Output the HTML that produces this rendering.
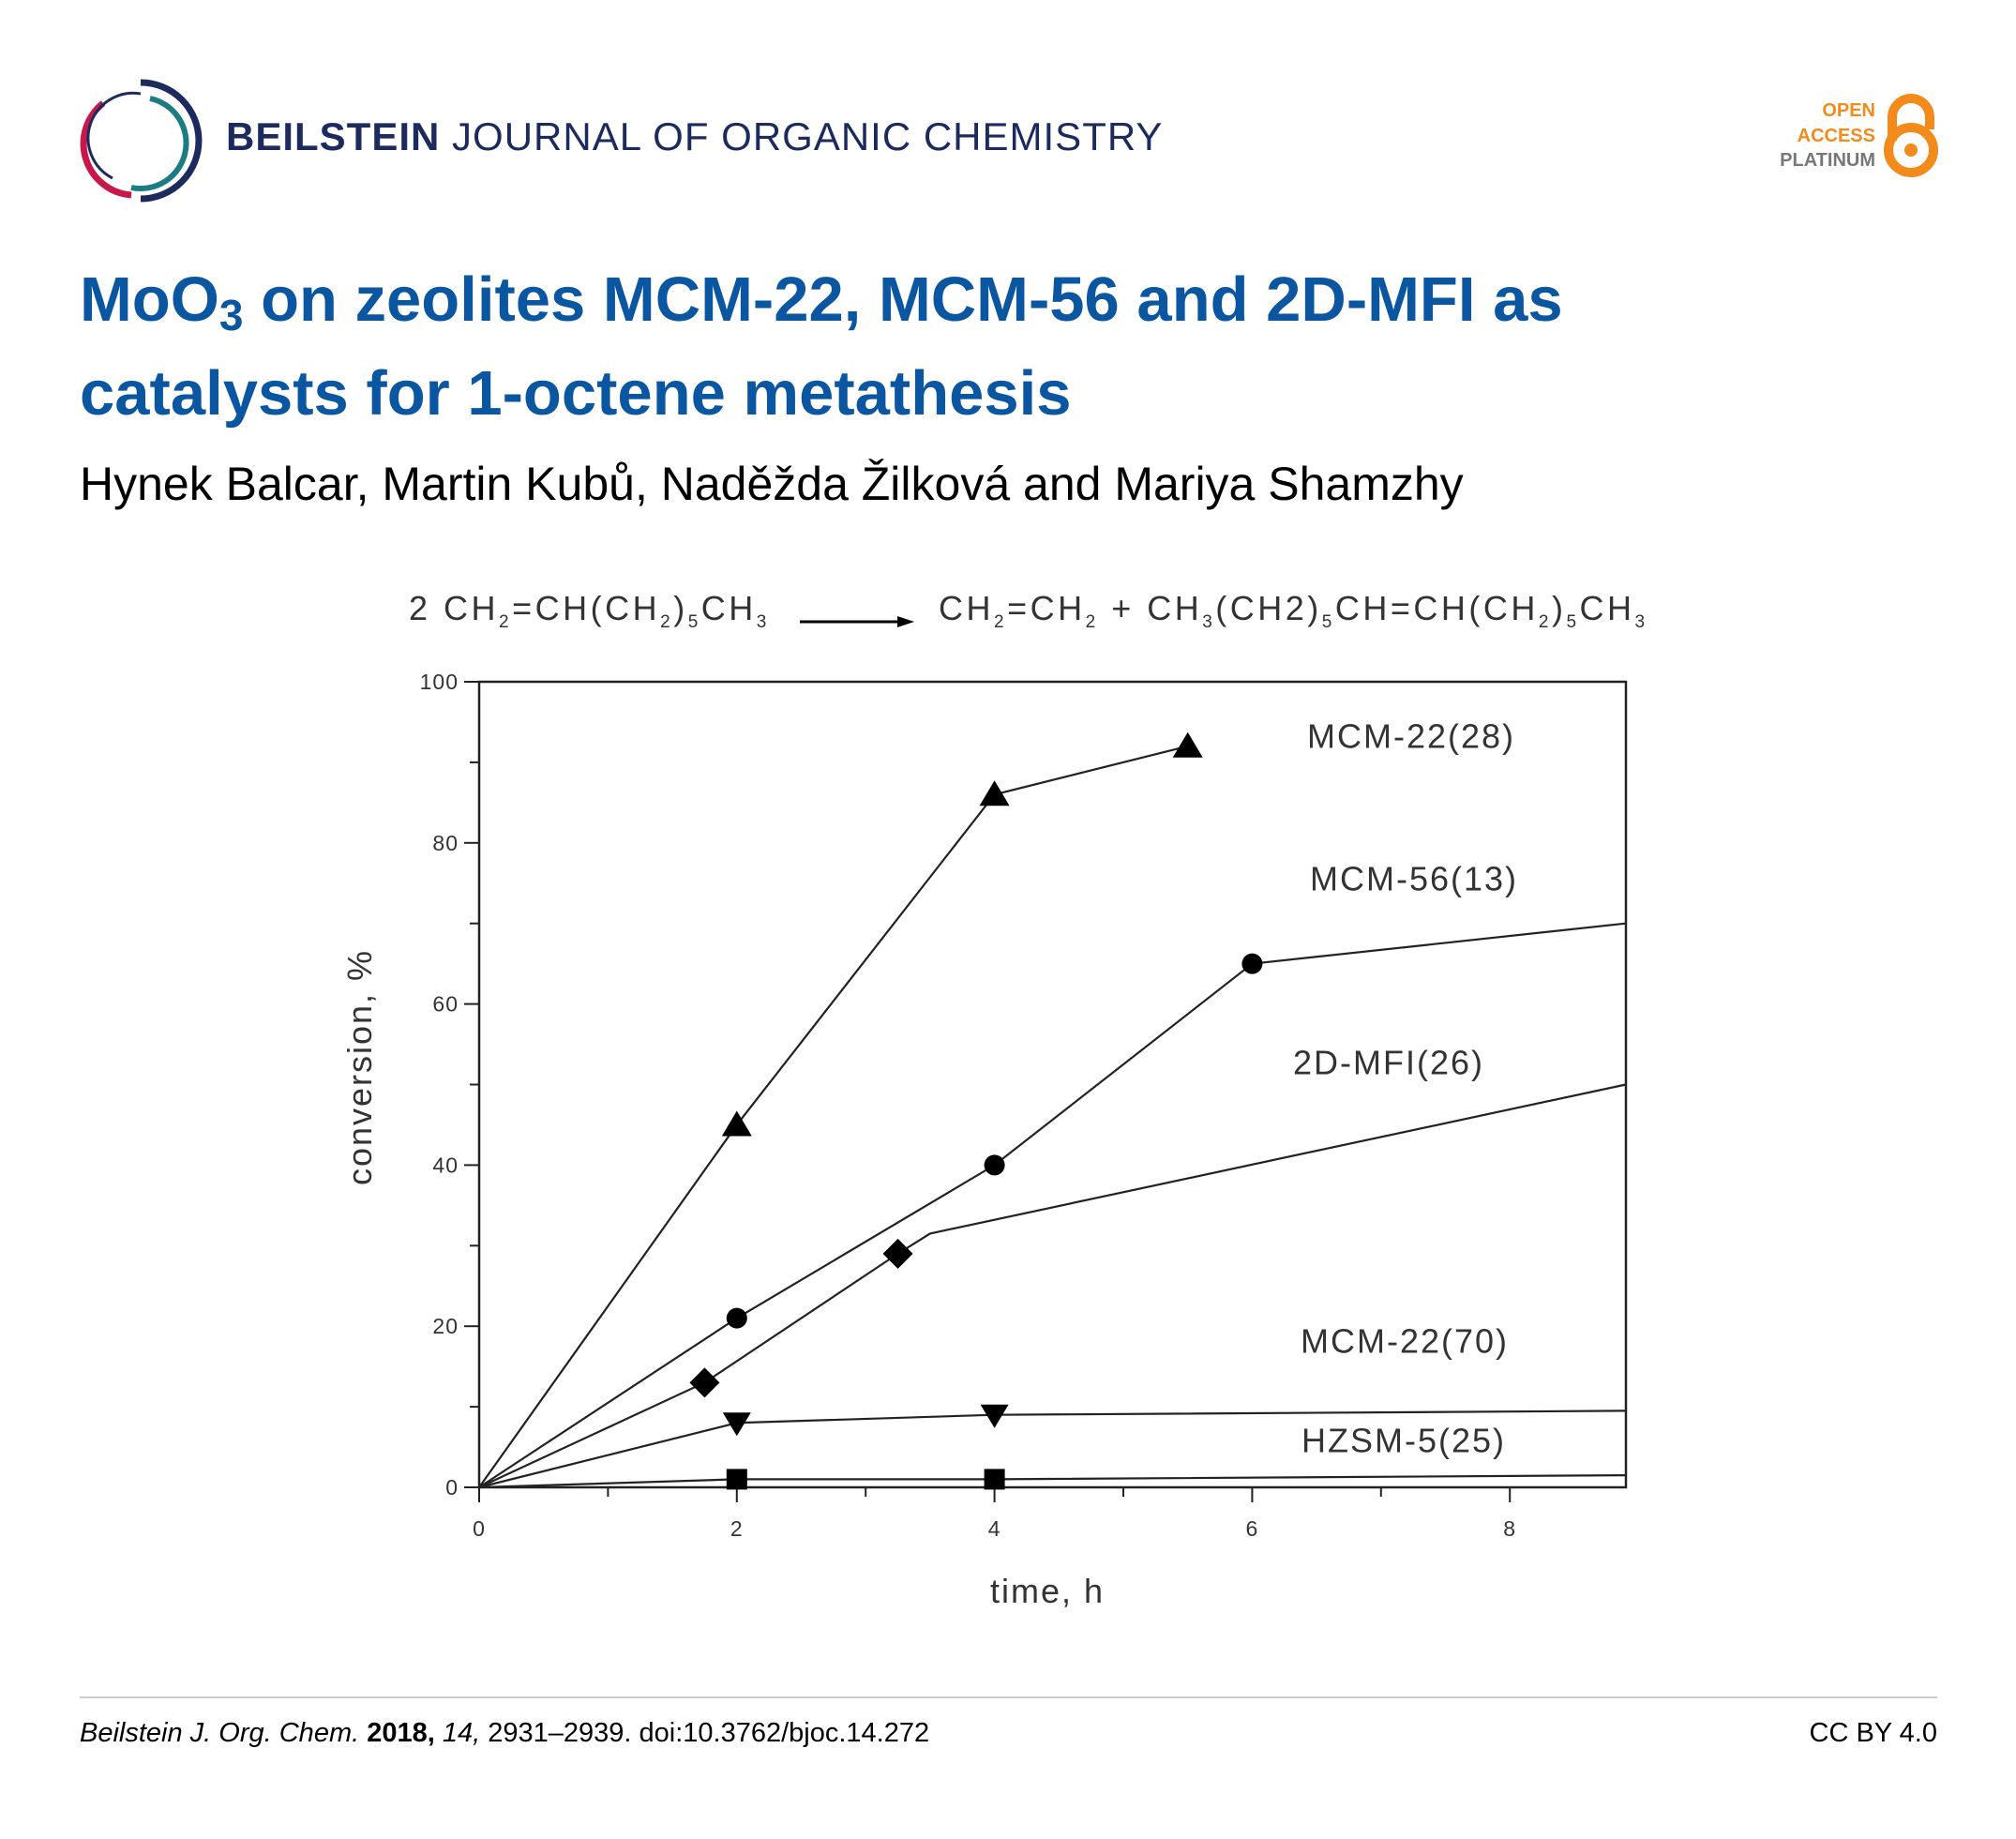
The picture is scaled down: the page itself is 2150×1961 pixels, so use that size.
<!DOCTYPE html>
<html><head><meta charset="utf-8"><style>
html,body{margin:0;padding:0;background:#fff;}
body{width:2150px;height:1961px;position:relative;overflow:hidden;font-family:"Liberation Sans",sans-serif;}
.abs{position:absolute;white-space:nowrap;}
</style></head><body>
<svg class="abs" style="left:80px;top:80px" width="140" height="140" viewBox="0 0 140 140">
<path d="M70 8 A62 62 0 0 1 70 132" fill="none" stroke="#1d2a5e" stroke-width="7"/>
<path d="M30 30 A55 55 0 0 0 60 128" fill="none" stroke="#c8174a" stroke-width="7"/>
<path d="M80 25 A48 48 0 0 1 60 120" fill="none" stroke="#1c7c82" stroke-width="6"/>
<path d="M70 20 A48 48 0 0 0 40 110" fill="none" stroke="#1d2a5e" stroke-width="3"/>
</svg>
<div class="abs" style="left:241px;top:122px;font-size:42px;color:#1d2a5e;letter-spacing:1px"><b>BEILSTEIN</b> JOURNAL OF ORGANIC CHEMISTRY</div>
<div class="abs" style="left:1880px;top:105px;width:120px;text-align:right;font-size:20px;font-weight:bold;line-height:26.5px">
<div style="color:#f28a1c">OPEN</div><div style="color:#f28a1c">ACCESS</div><div style="color:#777">PLATINUM</div></div>
<svg class="abs" style="left:2005px;top:100px" width="70" height="95">
<path d="M13 50 V25 A20 20 0 0 1 53 25 V38" fill="none" stroke="#f28a1c" stroke-width="10"/>
<circle cx="33" cy="60" r="24" fill="none" stroke="#f28a1c" stroke-width="10"/>
<circle cx="33" cy="60" r="7" fill="#f28a1c"/>
</svg>
<div class="abs" style="left:85px;top:278px;font-size:67px;font-weight:bold;color:#0b56a0;line-height:84px">MoO<sub style="font-size:46px;vertical-align:-10px">3</sub> on zeolites MCM-22, MCM-56 and 2D-MFI as<br>catalysts for 1-octene metathesis</div>
<div class="abs" style="left:85px;top:487px;font-size:50px;color:#000">Hynek Balcar, Martin Kubů, Naděžda Žilková and Mariya Shamzhy</div>

<svg class="abs" style="left:0;top:600px" width="2150" height="1180" id="chart">
<g id="eq" font-size="36" fill="#333" font-family="Liberation Sans,sans-serif" letter-spacing="3.5">
<text x="436" y="61">2 CH<tspan font-size="19" dy="8">2</tspan><tspan dy="-8">=CH(CH</tspan><tspan font-size="19" dy="8">2</tspan><tspan dy="-8">)</tspan><tspan font-size="19" dy="8">5</tspan><tspan dy="-8">CH</tspan><tspan font-size="19" dy="8">3</tspan></text>
<line x1="853" y1="63" x2="970" y2="63" stroke="#000" stroke-width="3"/>
<polygon points="957,57 975,63 957,69" fill="#000"/>
<text x="1001" y="61">CH<tspan font-size="19" dy="8">2</tspan><tspan dy="-8">=CH</tspan><tspan font-size="19" dy="8">2</tspan><tspan dy="-8"> + CH</tspan><tspan font-size="19" dy="8">3</tspan><tspan dy="-8">(CH2)</tspan><tspan font-size="19" dy="8">5</tspan><tspan dy="-8">CH=CH(CH</tspan><tspan font-size="19" dy="8">2</tspan><tspan dy="-8">)</tspan><tspan font-size="19" dy="8">5</tspan><tspan dy="-8">CH</tspan><tspan font-size="19" dy="8">3</tspan></text>
</g>
</svg>
<div class="abs" style="left:85px;top:1809px;width:1981px;height:2px;background:#ccc"></div>
<div class="abs" style="left:85px;top:1832px;font-size:29px;color:#000"><i>Beilstein J. Org. Chem.</i> <b>2018,</b> <i>14,</i> 2931–2939. doi:10.3762/bjoc.14.272</div>
<div class="abs" style="left:1866px;top:1832px;width:200px;text-align:right;font-size:29px;color:#000">CC BY 4.0</div>
<script>
const xTicks=[0,2,4,6,8];
const yTicks=[0,20,40,60,80,100];
const mcm22_28_x=[0,2,4,5.5];
const mcm22_28_y=[0,45,86,92];
const mcm56_x=[0,2,4,6,8.9];
const mcm56_y=[0,21,40,65,70];
const mfi_x=[0,1.75,3.25,3.5,8.9];
const mfi_y=[0,13,29,31.5,50];
const mcm22_70_x=[0,2,4,8.9];
const mcm22_70_y=[0,8,9,9.5];
const hzsm_x=[0,2,4,8.9];
const hzsm_y=[0,1,1,1.5];
const seriesNames=["MCM-22(28)","MCM-56(13)","2D-MFI(26)","MCM-22(70)","HZSM-5(25)"];
const labelX=[1505,1508,1481,1498,1497];
const labelY=[93.3,75.6,52.8,18.2,5.9];

const svg=document.getElementById('chart');
const NS='http://www.w3.org/2000/svg';
const X0=511,X1=1734,Y0=986,Y1=127;
const xs=v=>X0+v*137.4;
const ys=v=>Y0-v*(Y0-Y1)/100;
function mk(t,a){const e=document.createElementNS(NS,t);for(const k in a)e.setAttribute(k,a[k]);svg.appendChild(e);return e;}
const frame=mk('rect',{x:X0,y:Y1,width:X1-X0,height:Y0-Y1,fill:'none',stroke:'#222','stroke-width':2.5});


for(let i=0;i<=8;i++){const t=mk('line',{x1:xs(i),x2:xs(i),y1:Y0,y2:Y0+(i%2?10:16),stroke:'#222','stroke-width':2});

}
for(let v=0;v<=100;v+=10){const t=mk('line',{x1:X0,x2:X0-(v%20?10:16),y1:ys(v),y2:ys(v),stroke:'#222','stroke-width':2});

}
xTicks.forEach(v=>{const t=mk('text',{x:xs(v),y:Y0+52,'text-anchor':'middle','font-size':23,fill:'#333','letter-spacing':1});t.textContent=v;

});
yTicks.forEach(v=>{const t=mk('text',{x:X0-22,y:ys(v)+8,'text-anchor':'end','font-size':23,fill:'#333','letter-spacing':1});t.textContent=v;

});
const yt=mk('text',{x:0,y:0,transform:'translate(396,538) rotate(-90)','text-anchor':'middle','font-size':36,fill:'#333','letter-spacing':2});yt.textContent='conversion, %';


const xt=mk('text',{x:1117,y:1109,'text-anchor':'middle','font-size':36,fill:'#333','letter-spacing':2});xt.textContent='time, h';


function marker(type,cx,cy){let e;
 if(type==='tri')e=mk('polygon',{points:`${cx},${cy-15} ${cx-16},${cy+12} ${cx+16},${cy+12}`});
 else if(type==='dtri')e=mk('polygon',{points:`${cx},${cy+14} ${cx-15},${cy-11} ${cx+15},${cy-11}`});
 else if(type==='circ')e=mk('circle',{cx,cy,r:11});
 else if(type==='dia')e=mk('polygon',{points:`${cx},${cy-16} ${cx+16},${cy} ${cx},${cy+16} ${cx-16},${cy}`});
 else e=mk('rect',{x:cx-11,y:cy-11,width:22,height:22});
 e.setAttribute('fill','#000');return e;}
const S=[[mcm22_28_x,mcm22_28_y,'tri',[1,2,3]],[mcm56_x,mcm56_y,'circ',[1,2,3]],[mfi_x,mfi_y,'dia',[1,2]],[mcm22_70_x,mcm22_70_y,'dtri',[1,2]],[hzsm_x,hzsm_y,'sq',[1,2]]];
S.forEach((s,i)=>{
 const pl=mk('polyline',{points:s[0].map((x,j)=>xs(x)+','+ys(s[1][j])).join(' '),fill:'none',stroke:'#222','stroke-width':2.2});
 
 
 s[3].forEach(j=>{const m=marker(s[2],xs(s[0][j]),ys(s[1][j]));
  
  });
 const lb=mk('text',{x:labelX[i],y:ys(labelY[i])+13,'text-anchor':'middle','font-size':36,fill:'#333','letter-spacing':2});lb.textContent=seriesNames[i];
 
 
});
</script>
</body></html>
